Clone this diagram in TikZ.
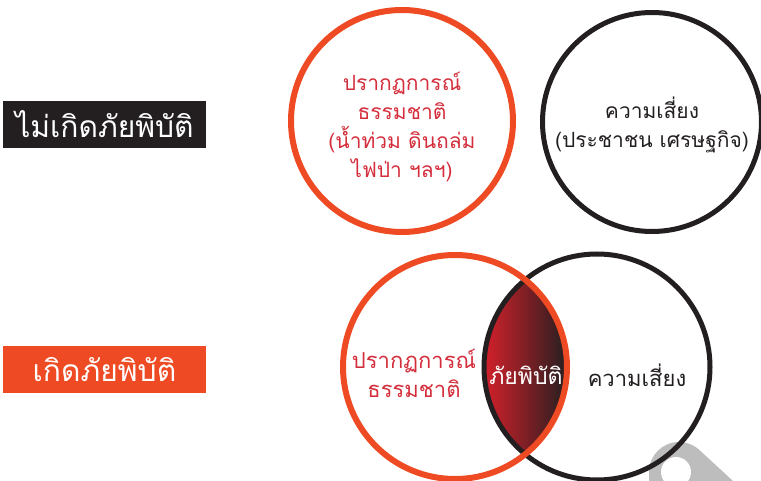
\documentclass[tikz,border=0pt]{standalone}
\usepackage{fontspec}
\newfontfamily\thai[Script=Thai]{Loma}
\definecolor{orng}{HTML}{EE4A23}
\definecolor{blk}{HTML}{231F20}
\definecolor{redtxt}{HTML}{D42E3C}
\definecolor{lensred}{HTML}{D4202A}
\definecolor{lensmid}{HTML}{A81D24}
\definecolor{grayk}{HTML}{BDBDBD}
\tikzset{
  labelbox/.style={inner sep=0, minimum width=203pt, minimum height=47pt, text=white, font=\thai\fontsize{30}{34}\selectfont},
  natcircle/.style={circle, draw=orng, line width=6pt, inner sep=0},
  riskcircle/.style={circle, draw=blk, line width=5pt, inner sep=0},
  redtext/.style={align=center, text=redtxt, font=\thai\fontsize{21}{29}\selectfont},
  blktext/.style={align=center, text=blk, font=\thai\fontsize{21}{29}\selectfont},
}
\begin{document}
\begin{tikzpicture}[x=1pt,y=-1pt]
\useasboundingbox (0,0) rectangle (761,481);
% labels
\node[labelbox, fill=blk] (nolabel) at (104.5,124.5) {ไม่เกิดภัยพิบัติ};
\node[labelbox, fill=orng] (yeslabel) at (104.5,369.5) {เกิดภัยพิบัติ};
% top circles
\node[natcircle, minimum size=222pt] (nat1) at (402,121) {};
\node[riskcircle, minimum size=219pt] (risk1) at (652,122) {};
\node[redtext] (nattext1) at (402,127) {ปรากฏการณ์\\ธรรมชาติ\\(น้ำท่วม ดินถล่ม\\ไฟป่า ฯลฯ)};
\node[blktext] (risktext1) at (652,125) {ความเสี่ยง\\(ประชาชน เศรษฐกิจ)};
% gray tag shape
\fill[grayk] (649,481) -- (649,472) arc[start angle=180, end angle=45, radius=30pt] -- (733,481) -- cycle;
\fill[white] (676,472) circle (15pt);
% lens
\begin{scope}
  \clip (455,367) circle (112pt);
  \clip (597,367) circle (113pt);
  \shade[left color=lensred, middle color=lensmid, right color=blk] (484,250) rectangle (568,485);
\end{scope}
\node[riskcircle, minimum size=226pt] (risk2) at (597,367) {};
\node[natcircle, minimum size=224pt] (nat2) at (455,367) {};
\node[redtext, font=\thai\fontsize{22}{29}\selectfont] (nattext2) at (414,373) {ปรากฏการณ์\\ธรรมชาติ};
\node[text=white, font=\thai\fontsize{23}{29}\selectfont] (disaster) at (526,375) {ภัยพิบัติ};
\node[blktext, font=\thai\fontsize{22}{29}\selectfont] (risktext2) at (637,375) {ความเสี่ยง};
\end{tikzpicture}
\end{document}
